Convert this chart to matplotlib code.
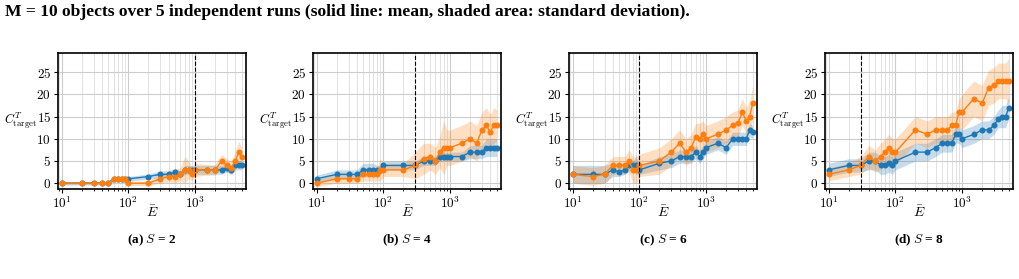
import numpy as np
import matplotlib
matplotlib.use('Agg')
import matplotlib.pyplot as plt

plt.rcParams['mathtext.fontset'] = 'cm'
plt.rcParams['font.family'] = 'serif'
plt.rcParams['font.serif'] = ['cmr10', 'DejaVu Serif']
plt.rcParams['axes.formatter.use_mathtext'] = True

# budget values (x axis) shared by all panels
E = [10, 20, 30, 40, 50, 60, 70, 80, 90, 100, 200, 300, 400, 500, 600, 700, 800,
     900, 1000, 1500, 2000, 2500, 3000, 3500, 4000, 4500, 5000]

labels = ['(a)', '(b)', '(c)', '(d)']
S_vals = [2, 4, 6, 8]
vlines = [1000, 300, 100, 30]

blue_mean = [
    [0, 0, 0, 0, 0, 1, 1, 1, 1, 1, 1.5, 2, 2, 2.5, 2, 3, 3, 3, 3, 3, 3, 3, 3.5, 3, 4, 4, 4],
    [1, 2, 2, 2, 3, 3, 3, 3, 3, 4, 4, 4, 5, 5, 5, 6, 6, 6, 6, 6, 7, 7, 7, 8, 8, 8, 8],
    [2, 2, 2, 3, 2.5, 3, 4, 4, 4, 3, 4.5, 5, 6, 6, 6, 7, 6, 7, 8, 9, 8, 10, 10, 10, 10, 12, 11.5],
    [3, 4, 4, 5, 5, 4, 4, 4.5, 4, 5, 7, 7, 8, 9, 9, 9, 11, 11, 10, 11, 12, 12, 13, 14.5, 15, 15, 17],
]
blue_std = [
    [0.4, 0.4, 0.4, 0.4, 0.4, 0.5, 0.5, 0.5, 0.5, 0.5, 0.6, 0.8, 0.8, 0.9, 0.8, 1, 1, 1, 1, 1, 1, 1, 1, 1, 1, 1, 1],
    [0.8, 1, 1, 1, 1.5, 1.5, 1.5, 1, 1, 1, 1, 1, 1, 1, 1, 1, 1, 1, 1, 1, 1.5, 1.5, 1.5, 2, 2, 2, 2],
    [2, 2, 2, 1.5, 1, 1, 1, 1, 2, 1, 1.5, 1.5, 1.5, 1.5, 1.5, 1.5, 1.5, 1.5, 1.5, 1.5, 1.5, 1.5, 1.5, 1.5, 1.5, 1.5, 1.5],
    [1.5, 1.5, 1.5, 2, 2, 2, 2, 2, 2, 2, 2, 2, 2, 2, 2, 2, 2, 2, 2, 2, 2, 2, 2, 2, 2.5, 2.5, 2.5],
]
orange_mean = [
    [0, 0, 0, 0, 0, 1, 1, 1, 1, 0, 0, 1, 1.5, 1.5, 2, 3, 3, 2, 3, 3, 3, 5, 4, 3.5, 5, 7, 6],
    [0, 1, 1, 1, 2, 2, 2, 2, 3, 3, 3, 4, 5.5, 6, 5, 7, 8, 8, 8, 9, 10, 9, 12, 13, 11.5, 13, 13],
    [2, 1.5, 2, 4, 4, 4, 5, 3, 3, 4, 5, 7, 9, 7, 8, 10.5, 10, 11, 10, 11, 12, 13, 13.5, 16, 14, 15, 18],
    [2, 3, 4, 6, 5, 6, 7, 8, 7, 7, 12, 11, 12, 12, 12, 13, 13, 16, 16, 19, 18, 21.5, 22, 23, 23, 23, 23],
]
orange_std = [
    [0.3, 0.3, 0.3, 0.3, 0.3, 0.6, 0.6, 0.6, 0.6, 0.5, 0.5, 1, 1.2, 1.5, 1.5, 3, 2, 1.5, 1.5, 1.2, 1.2, 1.5, 1.5, 1.5, 2, 2.5, 2],
    [0.8, 1, 1, 1, 1.5, 1.5, 1.5, 1.5, 2.5, 1.5, 1.5, 3, 3.5, 3, 3, 3.5, 6, 4, 4, 4, 4, 4, 4, 4, 4, 4, 3.5],
    [2, 2, 2, 2, 2, 2, 2.5, 3, 3, 2.5, 3, 3, 3, 3, 3, 3, 3.5, 3, 3, 3, 3, 3, 3, 3, 3, 3.5, 4],
    [1.5, 1.5, 2, 2.5, 2.5, 3, 3, 3, 3, 3, 3, 3, 3, 3, 3, 3, 3, 3, 4, 4, 4, 4, 4, 4, 4, 4, 5],
]

W, H = 1019, 279
fig = plt.figure(figsize=(W / 100, H / 100), dpi=100)

lefts = [58, 313, 569, 825]
aw = 188
top, bottom = 53, 189

fig.text(5 / W, 1 - 12 / H,
         'M = 10 objects over 5 independent runs (solid line: mean, shaded area: standard deviation).',
         family='Liberation Serif', weight='bold', fontsize=12.6, va='center', ha='left')

x = np.array(E)
for i in range(4):
    ax = fig.add_axes([lefts[i] / W, 1 - bottom / H, aw / W, (bottom - top) / H])
    bm, bs = np.array(blue_mean[i]), np.array(blue_std[i])
    om, os_ = np.array(orange_mean[i]), np.array(orange_std[i])
    ax.fill_between(x, bm - bs, bm + bs, color='#1f77b4', alpha=0.25, lw=0)
    ax.fill_between(x, om - os_, om + os_, color='#ff7f0e', alpha=0.25, lw=0)
    ax.plot(x, bm, '-o', color='#1f77b4', ms=3.3, lw=1)
    ax.plot(x, om, '-o', color='#ff7f0e', ms=3.3, lw=1)
    ax.axvline(vlines[i], color='black', ls='--', lw=0.8)
    ax.set_xscale('log')
    ax.set_xlim(8.8, 5800)
    ax.set_ylim(-1.3, 29.3)
    ax.set_yticks([0, 5, 10, 15, 20, 25])
    ax.grid(True, which='major', color='#cccccc', lw=0.8)
    ax.grid(True, which='minor', axis='x', color='#dddddd', lw=0.6)
    ax.set_axisbelow(True)
    ax.tick_params(labelsize=9.5, length=3, width=0.8, pad=2)
    ax.tick_params(which='minor', length=1.5)
    for sp in ax.spines.values():
        sp.set_linewidth(1.2)
    ax.set_xlabel(r'$\bar{E}$', fontsize=10)
    ax.xaxis.set_label_coords(0.5, -0.17)
    ax.xaxis.label.set_va('center')
    ax.set_ylabel(r'$C^{T}_{\mathrm{target}}$', fontsize=9, rotation=0, va='center', ha='center')
    ax.yaxis.set_label_coords(-0.2, 0.5)
    fig.text((lefts[i] + aw / 2) / W, 1 - 240 / H,
             labels[i] + ' $\\mathit{S}$ = ' + str(S_vals[i]),
             family='Liberation Serif', weight='bold', fontsize=9.5, ha='center', va='center')

fig.savefig('out.png', dpi=100)
